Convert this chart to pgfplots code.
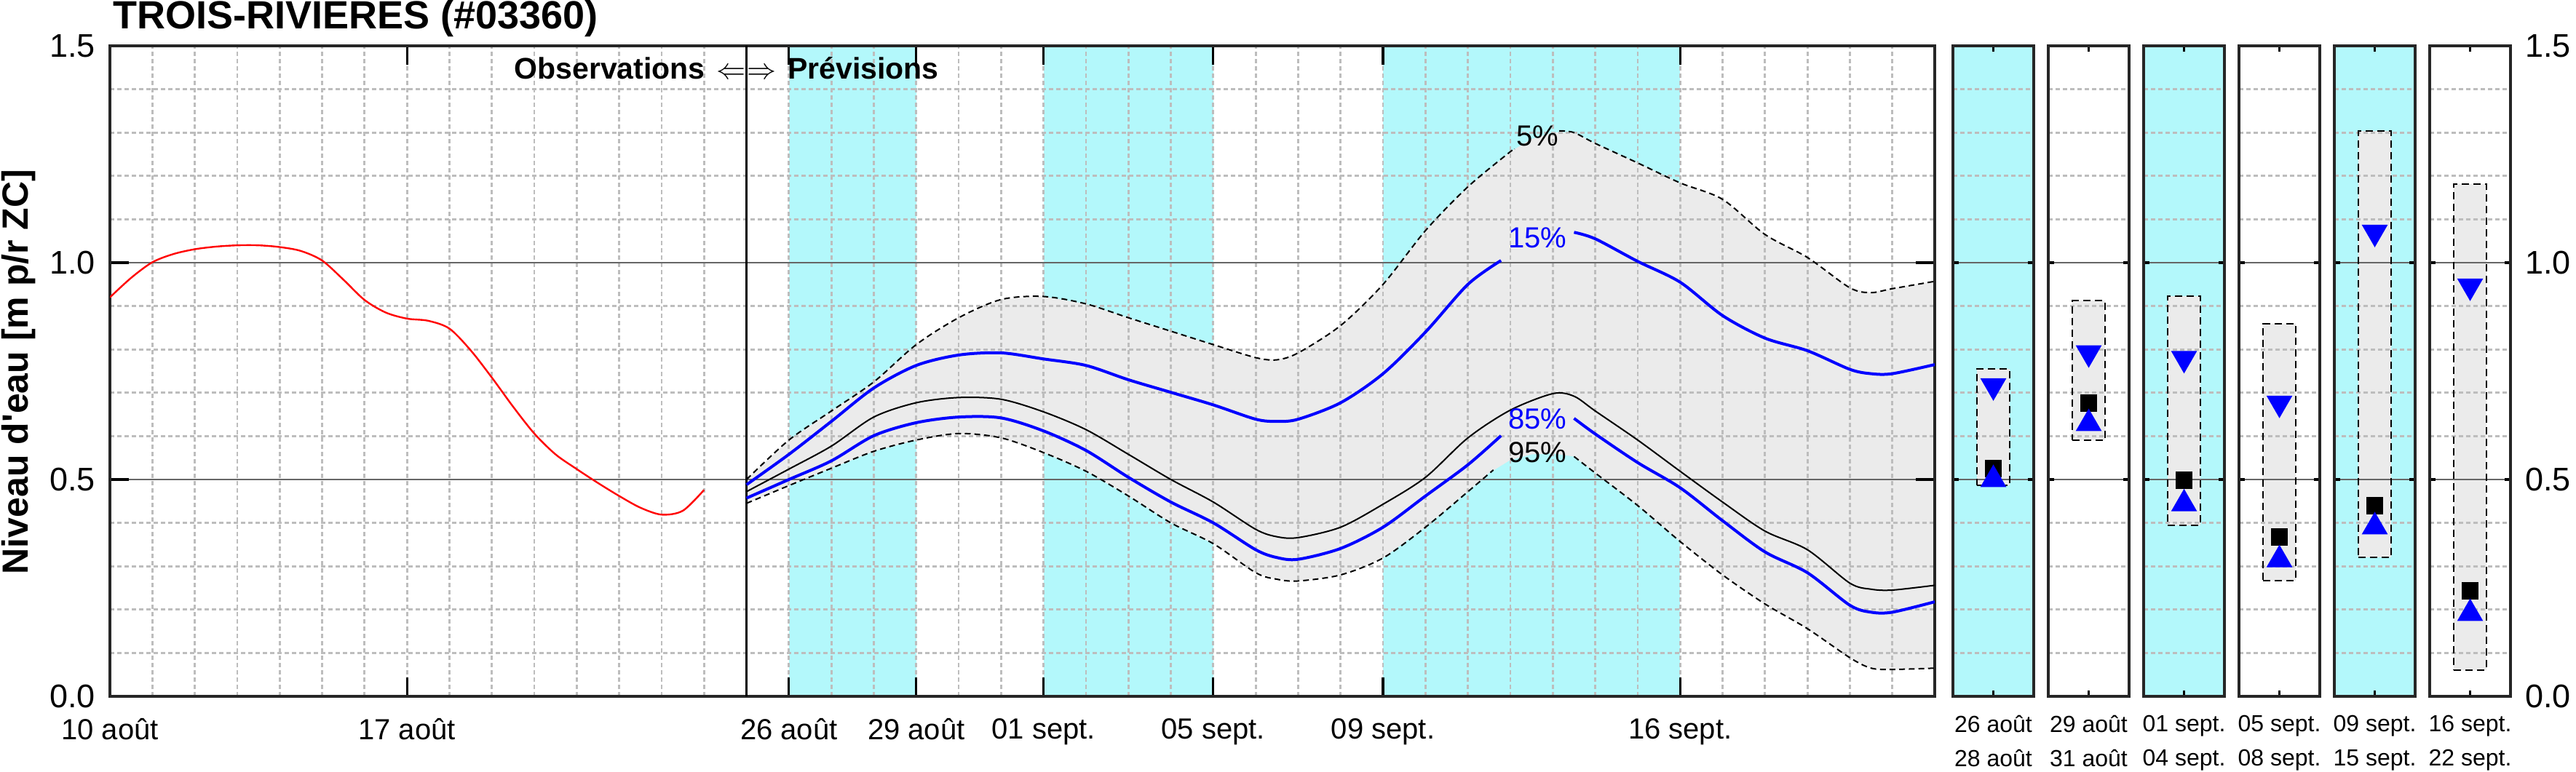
\documentclass[border=0pt]{standalone}
\usepackage{fontspec}
\setmainfont{Liberation Sans}
\usepackage{pgfplots}
\pgfplotsset{compat=1.18}
\definecolor{cyanband}{RGB}{179,248,251}
\definecolor{greyband}{RGB}{235,235,235}
\definecolor{axgray}{RGB}{38,38,38}
\pgfplotsset{
  myaxis/.style={
    set layers,
    scale only axis,
    anchor=south west,
    ymin=0, ymax=1.5,
    ytick={0,0.5,1,1.5},
    minor ytick={0.1,0.2,0.3,0.4,0.6,0.7,0.8,0.9,1.1,1.2,1.3,1.4},
    ymajorgrids=true, yminorgrids=true,
    major grid style={line width=0.5pt, black!60},
    minor grid style={line width=0.7pt, black!26, dash pattern=on 1.5pt off 1pt},
    axis line style={line width=1.1pt, axgray},
    major tick style={line width=0.8pt, black},
    minor tick length=0pt,
    xtick pos=both, ytick pos=both,
    /pgf/number format/assume math mode=true,
  },
  panel/.style={
    myaxis, height=223.5pt, width=27.75pt,
    xmin=0, xmax=1, xtick={0.5},
    yticklabels={},
    major tick length=2pt,
    xticklabel style={align=center, font=\fontsize{8}{11.75}\selectfont, yshift=-3pt},
  },
  boxfill/.style={draw=none, fill=greyband, on layer=axis background},
  boxline/.style={black, line width=0.5pt, dash pattern=on 2.5pt off 1.5pt},
  sq/.style={only marks, mark=square*, mark size=2.75pt, black},
  up/.style={only marks, mark=triangle*, mark size=4.75pt, blue},
  dn/.style={only marks, mark=triangle*, mark size=4.75pt, blue, mark options={rotate=180}},
}
\begin{document}
\begin{tikzpicture}

\begin{axis}[myaxis, at={(37.75pt,25.75pt)}, width=626.75pt, height=223.5pt,
  xmin=0, xmax=43,
  xtick={0,7,16,19,22,26,30,37},
  xticklabels={10 août,17 août,26 août,29 août,01 sept.,05 sept.,09 sept.,16 sept.},
  minor xtick={0,1,...,43},
  xminorgrids=true, xmajorgrids=false,
  major tick length=6.5pt,
  yticklabels={0.0,0.5,1.0,1.5},
  xticklabel style={font=\fontsize{10}{12}\selectfont, yshift=-4pt},
  yticklabel style={font=\fontsize{11.25}{13}\selectfont, xshift=-1.5pt},
]
% cyan bands
\addplot[draw=none, fill=cyanband, on layer=axis background] coordinates {(16,0)(19,0)(19,1.5)(16,1.5)};
\addplot[draw=none, fill=cyanband, on layer=axis background] coordinates {(22,0)(26,0)(26,1.5)(22,1.5)};
\addplot[draw=none, fill=cyanband, on layer=axis background] coordinates {(30,0)(37,0)(37,1.5)(30,1.5)};
% 5-95 band
\addplot[draw=none, fill=greyband, on layer=axis background] coordinates {
(15,0.500)(16,0.591)(17,0.658)(18,0.725)(19,0.811)(20,0.873)(21,0.915)(22,0.922)(23,0.905)(24,0.873)(25,0.842)(26,0.811)(27,0.781)(27.5,0.776)(28,0.792)(29,0.855)(30,0.950)(31,1.074)(32,1.175)(33,1.256)(33.5,1.285)(34,1.300)(34.5,1.300)(35,1.275)(36,1.230)(37,1.184)(38,1.146)(39,1.065)(40,1.012)(41,0.942)(41.5,0.931)(42,0.940)(43,0.957)
(43,0.065)(42,0.062)(41.5,0.065)(41,0.089)(40,0.156)(39,0.213)(38,0.280)(37,0.357)(36,0.440)(35,0.515)(34.5,0.553)(34,0.560)(33.5,0.558)(33,0.545)(32.5,0.515)(32,0.472)(31,0.390)(30,0.319)(29,0.280)(28,0.266)(27.5,0.270)(27,0.285)(26,0.352)(25,0.400)(24,0.462)(23,0.519)(22,0.562)(21,0.596)(20,0.606)(19,0.591)(18,0.565)(17,0.526)(16,0.486)(15,0.445)};
% divider
\addplot[black, line width=0.8pt] coordinates {(15,0)(15,1.5)};
% observations
\addplot[red, line width=0.6pt, smooth, tension=0.5] coordinates {
(0,0.920)(0.5,0.965)(1,1.001)(1.5,1.020)(2,1.031)(2.5,1.037)(3,1.040)(3.5,1.040)(4,1.036)(4.5,1.027)(5,1.005)(5.5,0.961)(6,0.914)(6.5,0.885)(7,0.871)(7.5,0.866)(8,0.848)(8.5,0.798)(9,0.735)(9.5,0.668)(10,0.606)(10.5,0.558)(11,0.524)(11.5,0.492)(12,0.462)(12.5,0.435)(13,0.419)(13.5,0.428)(14,0.476)};
% median
\addplot[black, line width=0.5pt, smooth, tension=0.5] coordinates {
(15,0.472)(16,0.524)(17,0.577)(18,0.644)(19,0.677)(20,0.689)(21,0.685)(22,0.656)(23,0.615)(24,0.558)(25,0.500)(26,0.448)(27,0.385)(27.5,0.368)(28,0.366)(29,0.390)(30,0.443)(31,0.505)(32,0.596)(33,0.660)(34,0.698)(34.5,0.692)(35,0.658)(36,0.591)(37,0.519)(38,0.448)(39,0.381)(40,0.338)(41,0.261)(41.5,0.247)(42,0.245)(43,0.256)};
% 15%
\addplot[blue, line width=1pt, smooth, tension=0.5] coordinates {
(15,0.488)(16,0.558)(17,0.634)(18,0.711)(19,0.763)(20,0.787)(21,0.792)(22,0.778)(23,0.763)(24,0.730)(25,0.701)(26,0.672)(27,0.639)(27.5,0.634)(28,0.639)(29,0.677)(30,0.744)(31,0.840)(32,0.950)(32.78,1.005)};
\addplot[blue, line width=1pt, smooth, tension=0.5] coordinates {
(34.5,1.070)(35,1.055)(36,1.003)(37,0.955)(38,0.878)(39,0.826)(40,0.797)(41,0.754)(41.5,0.744)(42,0.744)(43,0.765)};
% 85%
\addplot[blue, line width=1pt, smooth, tension=0.5] coordinates {
(15,0.457)(16,0.500)(17,0.543)(18,0.601)(19,0.631)(20,0.644)(21,0.642)(22,0.612)(23,0.567)(24,0.505)(25,0.448)(26,0.400)(27,0.338)(27.5,0.320)(28,0.316)(29,0.341)(30,0.390)(31,0.462)(32,0.534)(32.78,0.601)};
\addplot[blue, line width=1pt, smooth, tension=0.5] coordinates {
(34.5,0.641)(35,0.605)(36,0.539)(37,0.481)(38,0.405)(39,0.333)(40,0.285)(41,0.210)(41.5,0.194)(42,0.194)(43,0.218)};
% 5%
\addplot[black, line width=0.5pt, dash pattern=on 2pt off 1.3pt, smooth, tension=0.5] coordinates {
(15,0.500)(16,0.591)(17,0.658)(18,0.725)(19,0.811)(20,0.873)(21,0.915)(22,0.922)(23,0.905)(24,0.873)(25,0.842)(26,0.811)(27,0.781)(27.5,0.776)(28,0.792)(29,0.855)(30,0.950)(31,1.074)(32,1.175)(33,1.256)(33.1,1.262)};
\addplot[black, line width=0.5pt, dash pattern=on 2pt off 1.3pt, smooth, tension=0.5] coordinates {
(34.15,1.304)(34.5,1.300)(35,1.275)(36,1.230)(37,1.184)(38,1.146)(39,1.065)(40,1.012)(41,0.942)(41.5,0.931)(42,0.940)(43,0.957)};
% 95%
\addplot[black, line width=0.5pt, dash pattern=on 2pt off 1.3pt, smooth, tension=0.5] coordinates {
(15,0.445)(16,0.486)(17,0.526)(18,0.565)(19,0.591)(20,0.606)(21,0.596)(22,0.562)(23,0.519)(24,0.462)(25,0.400)(26,0.352)(27,0.285)(27.5,0.270)(28,0.266)(29,0.280)(30,0.319)(31,0.390)(32,0.472)(32.6,0.522)};
\addplot[black, line width=0.5pt, dash pattern=on 2pt off 1.3pt, smooth, tension=0.5] coordinates {
(34.5,0.553)(35,0.515)(36,0.440)(37,0.357)(38,0.280)(39,0.213)(40,0.156)(41,0.089)(41.5,0.065)(42,0.062)(43,0.065)};
% labels
\node[font=\fontsize{10}{12}\selectfont, inner sep=0pt] at (axis cs:33.64,1.292) {5\%};
\node[font=\fontsize{10}{12}\selectfont, inner sep=0pt, text=blue] at (axis cs:33.64,1.057) {15\%};
\node[font=\fontsize{10}{12}\selectfont, inner sep=0pt, text=blue] at (axis cs:33.64,0.639) {85\%};
\node[font=\fontsize{10}{12}\selectfont, inner sep=0pt] at (axis cs:33.64,0.562) {95\%};
\node[anchor=base east, inner sep=0pt, font=\bfseries\fontsize{10.25}{12}\selectfont] at (axis cs:15,1.423) {Observations\hspace{4pt}$\Leftarrow$};
\node[anchor=base west, inner sep=0pt, font=\bfseries\fontsize{10.25}{12}\selectfont] at (axis cs:15,1.423) {$\Rightarrow$\hspace{4pt}Prévisions};
\end{axis}

% panel 1
\begin{axis}[panel, at={(670.75pt,25.75pt)}, axis background/.style={fill=cyanband},
  xticklabels={{26 août\\28 août}}]
\addplot[boxfill] coordinates {(0.3,0.486)(0.7,0.486)(0.7,0.755)(0.3,0.755)};
\addplot[boxline] coordinates {(0.3,0.486)(0.7,0.486)(0.7,0.755)(0.3,0.755)(0.3,0.486)};
\addplot[sq] coordinates {(0.5,0.525)};
\addplot[up] coordinates {(0.5,0.500)};
\addplot[dn] coordinates {(0.5,0.716)};
\end{axis}
% panel 2
\begin{axis}[panel, at={(703.5pt,25.75pt)},
  xticklabels={{29 août\\31 août}}]
\addplot[boxfill] coordinates {(0.3,0.590)(0.7,0.590)(0.7,0.912)(0.3,0.912)};
\addplot[boxline] coordinates {(0.3,0.590)(0.7,0.590)(0.7,0.912)(0.3,0.912)(0.3,0.590)};
\addplot[sq] coordinates {(0.5,0.676)};
\addplot[up] coordinates {(0.5,0.629)};
\addplot[dn] coordinates {(0.5,0.792)};
\end{axis}
% panel 3
\begin{axis}[panel, at={(736.25pt,25.75pt)}, axis background/.style={fill=cyanband},
  xticklabels={{01 sept.\\04 sept.}}]
\addplot[boxfill] coordinates {(0.3,0.395)(0.7,0.395)(0.7,0.923)(0.3,0.923)};
\addplot[boxline] coordinates {(0.3,0.395)(0.7,0.395)(0.7,0.923)(0.3,0.923)(0.3,0.395)};
\addplot[sq] coordinates {(0.5,0.498)};
\addplot[up] coordinates {(0.5,0.444)};
\addplot[dn] coordinates {(0.5,0.779)};
\end{axis}
% panel 4
\begin{axis}[panel, at={(769pt,25.75pt)},
  xticklabels={{05 sept.\\08 sept.}}]
\addplot[boxfill] coordinates {(0.3,0.267)(0.7,0.267)(0.7,0.859)(0.3,0.859)};
\addplot[boxline] coordinates {(0.3,0.267)(0.7,0.267)(0.7,0.859)(0.3,0.859)(0.3,0.267)};
\addplot[sq] coordinates {(0.5,0.367)};
\addplot[up] coordinates {(0.5,0.315)};
\addplot[dn] coordinates {(0.5,0.676)};
\end{axis}
% panel 5
\begin{axis}[panel, at={(801.75pt,25.75pt)}, axis background/.style={fill=cyanband},
  xticklabels={{09 sept.\\15 sept.}}]
\addplot[boxfill] coordinates {(0.3,0.320)(0.7,0.320)(0.7,1.304)(0.3,1.304)};
\addplot[boxline] coordinates {(0.3,0.320)(0.7,0.320)(0.7,1.304)(0.3,1.304)(0.3,0.320)};
\addplot[sq] coordinates {(0.5,0.440)};
\addplot[up] coordinates {(0.5,0.391)};
\addplot[dn] coordinates {(0.5,1.070)};
\end{axis}
% panel 6
\begin{axis}[panel, at={(834.5pt,25.75pt)},
  xticklabels={{16 sept.\\22 sept.}},
  yticklabel pos=right,
  yticklabels={0.0,0.5,1.0,1.5},
  yticklabel style={font=\fontsize{11.25}{13}\selectfont, xshift=1.5pt}]
\addplot[boxfill] coordinates {(0.3,0.061)(0.7,0.061)(0.7,1.182)(0.3,1.182)};
\addplot[boxline] coordinates {(0.3,0.061)(0.7,0.061)(0.7,1.182)(0.3,1.182)(0.3,0.061)};
\addplot[sq] coordinates {(0.5,0.243)};
\addplot[up] coordinates {(0.5,0.191)};
\addplot[dn] coordinates {(0.5,0.946)};
\end{axis}

\node[anchor=base west, inner sep=0pt, font=\bfseries\fontsize{13.5}{15}\selectfont] at (38.75pt,255pt) {TROIS-RIVIERES (\#03360)};
\node[rotate=90, inner sep=0pt, font=\bfseries\fontsize{12.5}{14}\selectfont] at (6.5pt,137.25pt) {Niveau d\textquotesingle eau [m p/r ZC]};
\pgfresetboundingbox
\path[use as bounding box] (0,0) rectangle (884.75pt,265pt);
\end{tikzpicture}
\end{document}
